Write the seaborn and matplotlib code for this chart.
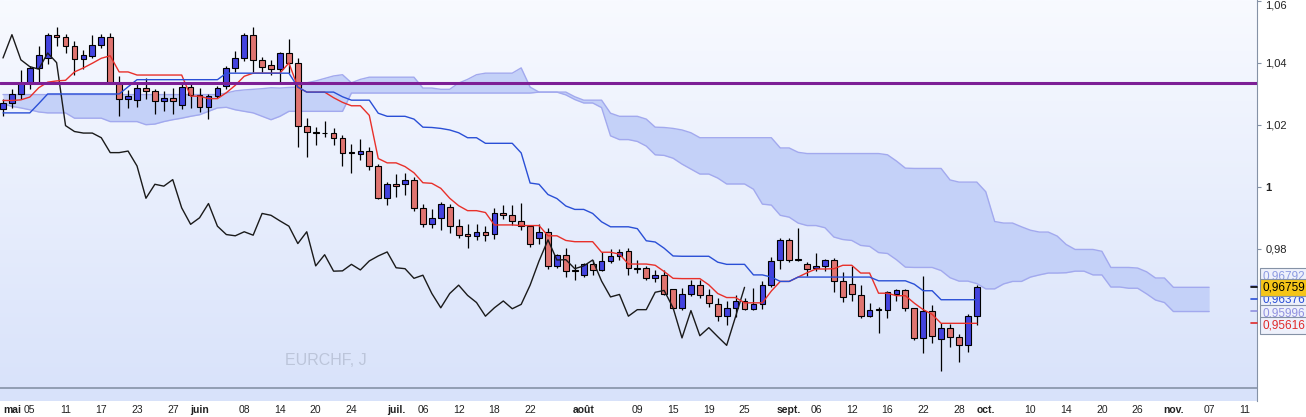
import numpy as np
import pandas as pd
import matplotlib
matplotlib.use("Agg")
import matplotlib.pyplot as plt
from matplotlib.colors import LinearSegmentedColormap
import seaborn as sns

# EURCHF daily candles, 2 May - 30 Sep 2022
opens = [1.0252,1.0270,1.0299,1.0335,1.0382,1.0415,1.0490,1.0482,1.0455,1.0412,
         1.0422,1.0458,1.0482,1.0335,1.0284,1.0278,1.0317,1.0308,1.0276,1.0286,
         1.0265,1.0321,1.0295,1.0256,1.0294,1.0324,1.0382,1.0415,1.0490,1.0409,
         1.0393,1.0379,1.0431,1.0400,1.0197,1.0175,1.0174,1.0174,1.0158,1.0111,
         1.0104,1.0115,1.0066,0.9963,1.0008,1.0009,1.0023,0.9932,0.9879,0.9900,
         0.9935,0.9873,0.9847,0.9842,0.9855,0.9849,0.9914,0.9908,0.9890,0.9873,
         0.9835,0.9855,0.9745,0.9779,0.9731,0.9717,0.9750,0.9732,0.9761,0.9777,
         0.9794,0.9737,0.9739,0.9707,0.9715,0.9672,0.9610,0.9656,0.9683,0.9650,
         0.9623,0.9583,0.9610,0.9632,0.9607,0.9623,0.9683,0.9764,0.9829,0.9766,
         0.9750,0.9739,0.9745,0.9764,0.9696,0.9688,0.9650,0.9583,0.9605,0.9604,
         0.9653,0.9666,0.9609,0.9513,0.9601,0.9508,0.9546,0.9517,0.9489,0.9582]
highs = [1.0282,1.0315,1.0377,1.0390,1.0455,1.0494,1.0514,1.0491,1.0471,1.0442,
         1.0488,1.0491,1.0494,1.0357,1.0311,1.0334,1.0351,1.0315,1.0308,1.0318,
         1.0330,1.0334,1.0318,1.0299,1.0324,1.0390,1.0436,1.0494,1.0514,1.0417,
         1.0409,1.0433,1.0477,1.0415,1.0222,1.0194,1.0213,1.0189,1.0168,1.0137,
         1.0155,1.0129,1.0074,1.0015,1.0042,1.0044,1.0031,0.9944,0.9928,0.9952,
         0.9944,0.9895,0.9879,0.9881,0.9875,0.9933,0.9941,0.9941,0.9947,0.9875,
         0.9879,0.9866,0.9784,0.9803,0.9750,0.9754,0.9764,0.9790,0.9798,0.9800,
         0.9803,0.9764,0.9746,0.9731,0.9732,0.9672,0.9675,0.9698,0.9698,0.9670,
         0.9640,0.9632,0.9650,0.9640,0.9674,0.9696,0.9775,0.9836,0.9836,0.9866,
         0.9758,0.9786,0.9768,0.9770,0.9725,0.9745,0.9683,0.9627,0.9613,0.9663,
         0.9670,0.9670,0.9609,0.9714,0.9619,0.9562,0.9558,0.9525,0.9591,0.9685]
lows = [1.0227,1.0253,1.0282,1.0315,1.0331,1.0396,1.0455,1.0432,1.0360,1.0380,
        1.0416,1.0448,1.0331,1.0227,1.0253,1.0256,1.0282,1.0233,1.0243,1.0233,
        1.0249,1.0253,1.0240,1.0217,1.0285,1.0315,1.0371,1.0404,1.0371,1.0371,
        1.0360,1.0335,1.0368,1.0129,1.0096,1.0135,1.0161,1.0134,1.0067,1.0045,
        1.0085,1.0055,0.9960,0.9941,0.9966,0.9973,0.9922,0.9871,0.9868,0.9862,
        0.9852,0.9835,0.9803,0.9829,0.9826,0.9832,0.9895,0.9876,0.9860,0.9806,
        0.9817,0.9736,0.9739,0.9708,0.9699,0.9708,0.9717,0.9728,0.9754,0.9765,
        0.9717,0.9721,0.9700,0.9692,0.9652,0.9607,0.9604,0.9649,0.9641,0.9614,
        0.9567,0.9553,0.9580,0.9603,0.9603,0.9607,0.9678,0.9736,0.9758,0.9761,
        0.9712,0.9728,0.9728,0.9660,0.9629,0.9632,0.9578,0.9580,0.9529,0.9578,
        0.9632,0.9600,0.9505,0.9464,0.9497,0.9406,0.9484,0.9435,0.9468,0.9555]
closes = [1.0270,1.0299,1.0335,1.0382,1.0426,1.0490,1.0484,1.0455,1.0412,1.0426,
          1.0458,1.0482,1.0335,1.0284,1.0292,1.0317,1.0308,1.0276,1.0286,1.0276,
          1.0321,1.0297,1.0256,1.0294,1.0317,1.0382,1.0415,1.0490,1.0409,1.0387,
          1.0379,1.0431,1.0400,1.0197,1.0178,1.0173,1.0173,1.0158,1.0110,1.0110,
          1.0115,1.0067,0.9963,1.0008,1.0002,1.0023,0.9932,0.9879,0.9900,0.9946,
          0.9873,0.9846,0.9842,0.9855,0.9844,0.9914,0.9908,0.9890,0.9873,0.9817,
          0.9855,0.9745,0.9781,0.9728,0.9729,0.9750,0.9732,0.9761,0.9777,0.9790,
          0.9739,0.9736,0.9705,0.9715,0.9656,0.9610,0.9656,0.9683,0.9650,0.9627,
          0.9583,0.9610,0.9632,0.9607,0.9621,0.9683,0.9761,0.9829,0.9764,0.9765,
          0.9736,0.9745,0.9764,0.9696,0.9645,0.9653,0.9583,0.9604,0.9604,0.9660,
          0.9666,0.9610,0.9513,0.9601,0.9520,0.9546,0.9517,0.9489,0.9582,0.96759]

# Ichimoku lines (one value per bar)
tenkan = [1.0278,1.0278,1.0280,1.0289,1.0319,1.0337,1.0341,1.0343,
          1.0370,1.0383,1.0398,1.0414,1.0422,1.0370,1.0370,1.0360,1.0360,1.0360,
          1.0360,1.0360,1.0360,1.0292,1.0292,1.0284,1.0284,1.0303,1.0327,1.0356,
          1.0366,1.0366,1.0366,1.0366,1.0399,1.0321,1.0305,1.0305,1.0305,1.0287,
          1.0272,1.0261,1.0261,1.0230,1.0091,1.0077,1.0077,1.0065,1.0045,1.0013,
          1.0011,0.9995,0.9963,0.9939,0.9923,0.9923,0.9917,0.9877,0.9877,0.9877,
          0.9875,0.9875,0.9875,0.9842,0.9842,0.9827,0.9823,0.9823,0.9823,0.9789,
          0.9789,0.9783,0.9751,0.9751,0.9751,0.9747,0.9727,0.9705,0.9704,0.9704,
          0.9704,0.9684,0.9656,0.9643,0.9643,0.9626,0.9626,0.9626,0.9664,0.9695,
          0.9695,0.9709,0.9723,0.9735,0.9735,0.9736,0.9747,0.9747,0.9722,0.9722,
          0.9657,0.9657,0.9649,0.9649,0.9625,0.9604,0.9589,0.9560,0.9560,0.9560,
          0.9560,0.9560]
kijun = [1.0238,1.0238,1.0238,1.0238,1.0268,1.0299,1.0299,1.0299,1.0299,1.0299,
         1.0299,1.0299,1.0299,1.0299,1.0322,1.0345,1.0345,1.0345,1.0345,1.0345,
         1.0345,1.0345,1.0345,1.0345,1.0345,
         1.0366,1.0366,1.0366,1.0366,1.0366,1.0366,1.0366,1.0366,1.0321,1.0305,
         1.0305,1.0305,1.0305,1.0290,1.0279,1.0279,1.0279,1.0237,1.0227,1.0227,
         1.0227,1.0218,1.0192,1.0191,1.0188,1.0183,1.0174,1.0158,1.0158,1.0140,
         1.0140,1.0140,1.0140,1.0109,1.0012,1.0008,0.9975,0.9962,0.9938,0.9927,
         0.9927,0.9914,0.9887,0.9871,0.9871,0.9871,0.9865,0.9826,0.9822,0.9802,
         0.9777,0.9776,0.9776,0.9776,0.9776,0.9757,0.9750,0.9750,0.9750,0.9716,
         0.9716,0.9709,0.9695,0.9695,0.9709,0.9709,0.9709,0.9709,0.9709,0.9709,
         0.9709,0.9709,0.9709,0.9697,0.9697,0.9697,0.9697,0.9686,0.9665,0.9665,
         0.9636,0.9636,0.9636,0.9636,0.9636]
senkou_a = [1.0297,1.0297,1.0297,1.0297,1.0297,1.0297,1.0297,1.0297,1.0297,1.0297,
            1.0297,1.0297,1.0297,1.0297,1.0297,1.0297,1.0297,1.0297,1.0297,1.0297,
            1.0297,1.0297,1.0297,1.0297,1.0297,1.0302,1.0309,1.0312,1.0314,1.0316,
            1.0319,
            1.0318,1.0320,1.0321,1.0335,1.0341,1.0349,1.0357,1.0361,1.0335,1.0346,
            1.0353,1.0353,1.0353,1.0353,1.0353,1.0353,1.0318,1.0318,1.0314,1.0314,
            1.0334,1.0346,1.0361,1.0366,1.0366,1.0366,1.0366,1.0383,1.0321,1.0305,
            1.0305,1.0305,1.0296,1.0281,1.0270,1.0270,1.0255,1.0164,1.0152,1.0152,
            1.0146,1.0131,1.0103,1.0101,1.0092,1.0073,1.0057,1.0041,1.0041,1.0028,
            1.0009,1.0009,1.0009,0.9992,0.9944,0.9941,0.9908,0.9902,0.9883,0.9875,
            0.9875,0.9868,0.9838,0.9830,0.9827,0.9811,0.9808,0.9788,0.9785,0.9765,
            0.9741,0.9740,0.9740,0.9740,0.9730,0.9707,0.9696,0.9696,0.9688,0.9671,
            0.9671,0.9687,0.9695,0.9695,0.9709,0.9716,0.9722,0.9722,0.9723,0.9728,
            0.9728,0.9716,0.9716,0.9677,0.9677,0.9673,0.9673,0.9655,0.9635,0.9627,
            0.9598,0.9598,0.9598,0.9598,0.9598]
senkou_b = [1.0267,1.0259,1.0254,1.0248,1.0241,1.0238,1.0238,1.0238,1.0221,1.0221,
            1.0221,1.0221,1.0210,1.0210,1.0210,1.0210,1.0200,1.0202,1.0210,1.0216,
            1.0221,1.0227,1.0232,1.0243,1.0254,1.0256,1.0248,1.0243,1.0238,1.0227,
            1.0216,1.0227,1.0243,1.0243,1.0243,1.0243,1.0243,1.0243,1.0243,1.0302,
            1.0302,1.0302,1.0302,1.0302,1.0302,1.0302,1.0302,1.0302,1.0302,1.0302,
            1.0302,1.0302,1.0302,1.0302,1.0302,1.0302,1.0302,1.0302,1.0302,1.0302,
            1.0305,1.0305,1.0305,1.0305,1.0290,1.0279,1.0279,1.0279,1.0237,1.0227,
            1.0227,1.0227,1.0218,1.0192,1.0191,1.0188,1.0183,1.0174,1.0158,1.0158,
            1.0158,1.0158,1.0158,1.0158,1.0158,1.0158,1.0158,1.0125,1.0125,1.0111,
            1.0107,1.0107,1.0107,1.0107,1.0107,1.0107,1.0107,1.0107,1.0107,1.0103,
            1.0083,1.0060,1.0059,1.0059,1.0059,1.0059,1.0022,1.0015,1.0015,1.0015,
            0.9984,0.9888,0.9883,0.9883,0.9871,0.9860,0.9854,0.9854,0.9841,0.9814,
            0.9798,0.9798,0.9798,0.9792,0.9740,0.9740,0.9740,0.9738,0.9726,0.9706,
            0.9706,0.9676,0.9676,0.9676,0.9676,0.9676]
chikou_shift = 26

tick_dates = ['2022-05-02','2022-05-05','2022-05-11','2022-05-17','2022-05-23','2022-05-27',
              '2022-06-01','2022-06-08','2022-06-14','2022-06-20','2022-06-24','2022-07-01',
              '2022-07-06','2022-07-12','2022-07-18','2022-07-22','2022-08-01','2022-08-09',
              '2022-08-15','2022-08-19','2022-08-25','2022-09-01','2022-09-06','2022-09-12',
              '2022-09-16','2022-09-22','2022-09-28','2022-10-03','2022-10-10','2022-10-14',
              '2022-10-20','2022-10-26','2022-11-01','2022-11-07','2022-11-11']
tick_labels = ['mai','05','11','17','23','27','juin','08','14','20','24','juil.','06','12','18',
               '22','août','09','15','19','25','sept.','06','12','16','22','28','oct.','10','14',
               '20','26','nov.','07','11']
month_labels = {'mai','juin','juil.','août','sept.','oct.','nov.'}
y_ticks = [0.98, 1.00, 1.02, 1.04, 1.06]
y_tick_labels = ['0,98', '1', '1,02', '1,04', '1,06']
value_labels = ['0,96792', '0,96759', '0,96376', '0,95996', '0,95616']
value_levels = [0.96792, 0.96759, 0.96376, 0.95996, 0.95616]
resistance_level = 1.0335
separator_level = 0.9353

sns.set_style("white")
plt.rcParams['font.family'] = ['Liberation Sans', 'DejaVu Sans']

dates = pd.bdate_range('2022-05-02', periods=141)
pos = {d.strftime('%Y-%m-%d'): i for i, d in enumerate(dates)}
tick_pos = [pos[d] for d in tick_dates]

fig = plt.figure(figsize=(13.06, 4.17), dpi=100)
ax = fig.add_axes([0, 16/417, 1257/1306, 401/417])
xmin, xmax = -0.336, 140.36
ymin, ymax = 0.93097, 1.060176
grad = np.linspace(0, 1, 256).reshape(-1, 1)
cmap = LinearSegmentedColormap.from_list('bg', ['#f8faff', '#d8e2fa'])
ax.imshow(grad, extent=[xmin, xmax, ymin, ymax], aspect='auto', cmap=cmap, origin='upper', zorder=0)

# cloud
xc = np.arange(len(senkou_a))
ax.fill_between(xc, senkou_a, senkou_b, color='#c4d1f8', zorder=1, lw=0)
ax.plot(xc, senkou_a, color='#a2a9ee', lw=1, zorder=1.5)
ax.plot(xc, senkou_b, color='#a2a9ee', lw=1, zorder=1.5)

# candles
x = np.arange(len(closes))
O = np.array(opens); C = np.array(closes); H = np.array(highs); L = np.array(lows)
ax.vlines(x, L, H, color='black', lw=0.9, zorder=3)
up = C >= O
ax.bar(x, np.maximum(np.abs(C - O), 0.00008), bottom=np.minimum(O, C), width=0.64,
       color=np.where(up, '#4343df', '#df7470'), edgecolor='black', lw=0.8, zorder=4)

# lines
sns.lineplot(x=np.arange(len(closes) - chikou_shift), y=C[chikou_shift:], color='#1a1a1a', lw=1, ax=ax, zorder=5)
sns.lineplot(x=x, y=tenkan, color='#e8302a', lw=1, ax=ax, zorder=5)
sns.lineplot(x=x, y=kijun, color='#2a4fd6', lw=1, ax=ax, zorder=5)
ax.axhline(resistance_level, color='#7d1f96', lw=2.2, zorder=6)
ax.axhline(separator_level, color='#8592a6', lw=1.2, zorder=6)
ax.set_xlim(xmin, xmax); ax.set_ylim(ymin, ymax)

for s in ['top', 'left', 'bottom']:
    ax.spines[s].set_visible(False)
ax.spines['right'].set_color('#8592a6')
ax.yaxis.tick_right()
ax.set_yticks(y_ticks)
ax.set_yticklabels(y_tick_labels)
ax.tick_params(axis='y', direction='out', length=3, color='#8592a6', labelsize=8, pad=3, labelcolor='#222222')
for t in ax.get_yticklabels():
    if t.get_text() == '1':
        t.set_fontweight('bold')
    if t.get_text() == '1,06':
        t.set_verticalalignment('top')
ax.set_xticks(tick_pos)
ax.set_xticklabels(tick_labels)
ax.tick_params(axis='x', direction='out', length=2, color='#8592a6', labelsize=7.5, pad=1, labelcolor='#222222')
for t in ax.get_xticklabels():
    if t.get_text() in month_labels:
        t.set_fontweight('bold')
    if t.get_text() == 'mai':
        t.set_horizontalalignment('left')
ax.set_xlabel(''); ax.set_ylabel('')

# last-value boxes on the price scale
box_fc = ['#eef1fb', '#f5c518', '#eef1fb', '#eef1fb', '#eef1fb']
box_tc = ['#8d9be2', '#000000', '#2a4fd6', '#9090e0', '#e02a2a']
box_dy = [7, 0, -0.5, -1.5, -2]
trans = ax.get_yaxis_transform()
for k in [0, 2, 3, 4, 1]:
    ax.plot([0.9955, 1.0], [value_levels[k], value_levels[k]], transform=trans,
            color=box_tc[k], lw=1.2, clip_on=False, zorder=7)
    ax.annotate(value_labels[k], xy=(1.0, value_levels[k]), xycoords=trans,
                xytext=(4, box_dy[k]), textcoords='offset points', ha='left', va='center',
                fontsize=8.5, color=box_tc[k], annotation_clip=False, zorder=9 if k == 1 else 8,
                bbox=dict(boxstyle='square,pad=0.22', fc=box_fc[k], ec='#8592a6', lw=0.8))
ax.text(0.227, 0.102, 'EURCHF, J', transform=ax.transAxes, color='#bcc5da', fontsize=11.5, va='center')
fig.savefig('out.png', dpi=100)
